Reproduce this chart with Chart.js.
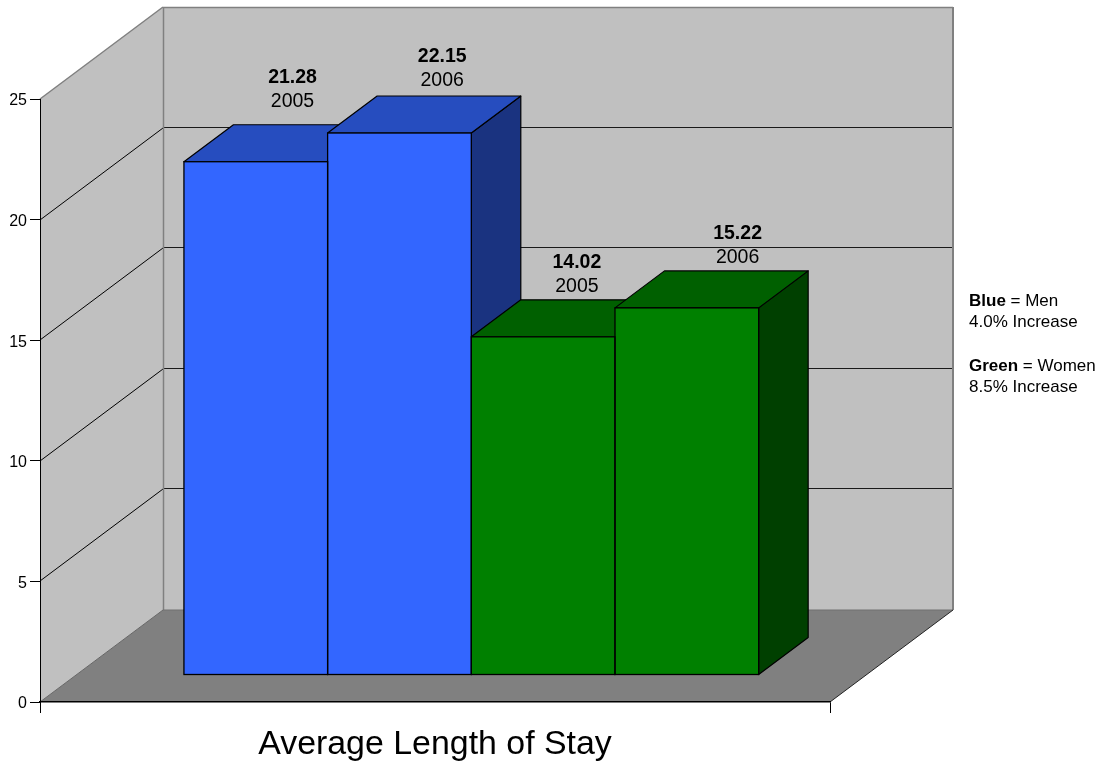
<!DOCTYPE html>
<html>
<head>
<meta charset="utf-8">
<style>html,body{margin:0;padding:0;background:#fff}canvas{display:block}</style>
<script src="https://cdn.jsdelivr.net/npm/chart.js@4/dist/chart.umd.min.js"></script>
</head>
<body>
<canvas id="c" width="1102" height="761" style="width:1102px;height:761px"></canvas>
<script>
const categories = ['Average Length of Stay'];
const seriesNames = ['Men 2005', 'Men 2006', 'Women 2005', 'Women 2006'];
const barHeights = [21.28, 22.47, 14.02, 15.22];
const valueLabels = ['21.28', '22.15', '14.02', '15.22'];
const yearLabels = ['2005', '2006', '2005', '2006'];
const frontColors = ['#3366FF', '#3366FF', '#008000', '#008000'];
const topColors = ['#264DBF', '#264DBF', '#006000', '#006000'];
const sideColors = ['#1A3380', '#1A3380', '#004000', '#004000'];
const labelNudgeX = [12, 18, 9, 26];
const labelNudgeY = [2, 10, 12, 12];

const WALL = {dx: 123, dy: -92};
const BAR_SHIFT = {x: 36.3, y: -27};
const BAR_DEPTH = {x: 49.5, y: -37};

function poly(ctx, pts, fill, stroke, lw) {
  ctx.beginPath();
  pts.forEach((p, i) => i ? ctx.lineTo(p[0], p[1]) : ctx.moveTo(p[0], p[1]));
  ctx.closePath();
  if (fill) { ctx.fillStyle = fill; ctx.fill(); }
  if (stroke) { ctx.strokeStyle = stroke; ctx.lineWidth = lw || 1; ctx.stroke(); }
}
function seg(ctx, x1, y1, x2, y2, color, lw) {
  ctx.beginPath(); ctx.moveTo(x1, y1); ctx.lineTo(x2, y2);
  ctx.strokeStyle = color; ctx.lineWidth = lw || 1; ctx.stroke();
}

const room3d = {
  id: 'room3d',
  beforeDraw(chart) {
    const {ctx, chartArea: a, scales: {y}} = chart;
    const L = a.left, R = a.right, T = y.getPixelForValue(25), B = y.getPixelForValue(0);
    const dx = WALL.dx, dy = WALL.dy;
    ctx.save();
    poly(ctx, [[L + dx, T + dy], [R + dx, T + dy], [R + dx, B + dy], [L + dx, B + dy]], '#C0C0C0');
    poly(ctx, [[L, T], [L + dx, T + dy], [L + dx, B + dy], [L, B]], '#C0C0C0');
    poly(ctx, [[L, B], [L + dx, B + dy], [R + dx, B + dy], [R, B]], '#808080');
    y.ticks.forEach(t => {
      if (t.value === 0 || t.value === 25) return;
      const py = Math.round(y.getPixelForValue(t.value));
      seg(ctx, L, py, L + dx, py + dy, '#000', 1);
      seg(ctx, L + dx, py + dy - 0.5, R + dx, py + dy - 0.5, '#1a1a1a', 1);
    });
    seg(ctx, L, T, L + dx, T + dy, '#808080', 1.5);
    seg(ctx, L + dx, T + dy + 0.5, R + dx, T + dy + 0.5, '#808080', 1.5);
    seg(ctx, L + dx + 0.5, T + dy, L + dx + 0.5, B + dy, '#808080', 1.5);
    seg(ctx, R + dx, T + dy, R + dx, B + dy, '#808080', 2);
    seg(ctx, L + dx, B + dy, R + dx, B + dy, '#707070', 1);
    seg(ctx, L, B, L + dx, B + dy, '#666', 1);
    seg(ctx, R, B, R + dx, B + dy, '#222', 1);
    ctx.restore();
  },
  beforeDatasetsDraw(chart) {
    const {ctx} = chart;
    ctx.save();
    chart.getSortedVisibleDatasetMetas().forEach(meta => {
      const i = meta.index, b = meta.data[0];
      const x0 = b.x - b.width / 2 + BAR_SHIFT.x, x1 = b.x + b.width / 2 + BAR_SHIFT.x;
      const t = b.y + BAR_SHIFT.y, f = b.base + BAR_SHIFT.y;
      const ddx = BAR_DEPTH.x, ddy = BAR_DEPTH.y;
      ctx.lineJoin = 'round';
      poly(ctx, [[x1, t], [x1 + ddx, t + ddy], [x1 + ddx, f + ddy], [x1, f]], sideColors[i], '#000', 1.2);
      poly(ctx, [[x0, t], [x0 + ddx, t + ddy], [x1 + ddx, t + ddy], [x1, t]], topColors[i], '#000', 1.2);
    });
    ctx.restore();
  },
  beforeDatasetDraw(chart) {
    chart.ctx.save();
    chart.ctx.translate(BAR_SHIFT.x, BAR_SHIFT.y);
  },
  afterDatasetDraw(chart) {
    chart.ctx.restore();
  },
  afterDatasetsDraw(chart) {
    const {ctx} = chart;
    ctx.save();
    chart.getSortedVisibleDatasetMetas().forEach(meta => {
      const b = meta.data[0];
      const x0 = b.x - b.width / 2 + BAR_SHIFT.x;
      const t = b.y + BAR_SHIFT.y, f = b.base + BAR_SHIFT.y;
      ctx.strokeStyle = '#000';
      ctx.lineWidth = 1.3;
      ctx.strokeRect(x0, t, b.width, f - t);
    });
    ctx.textAlign = 'center';
    ctx.textBaseline = 'middle';
    chart.getSortedVisibleDatasetMetas().forEach(meta => {
      const i = meta.index, b = meta.data[0];
      const cx = b.x + BAR_SHIFT.x + BAR_DEPTH.x / 2 + labelNudgeX[i];
      const top = b.y + BAR_SHIFT.y + BAR_DEPTH.y + labelNudgeY[i];
      ctx.fillStyle = '#000';
      ctx.font = 'bold 19.5px "Liberation Sans", Arial, sans-serif';
      ctx.fillText(valueLabels[i], cx, top - 49);
      ctx.font = '19.5px "Liberation Sans", Arial, sans-serif';
      ctx.fillText(yearLabels[i], cx, top - 25);
    });
    ctx.restore();
    drawKey(ctx);
  }
};

function drawKey(ctx) {
  ctx.save();
  ctx.fillStyle = '#000';
  ctx.textAlign = 'left';
  ctx.textBaseline = 'middle';
  const rows = [
    ['Blue', ' = Men', 301],
    ['', '4.0% Increase', 322],
    ['Green', ' = Women', 366],
    ['', '8.5% Increase', 387]
  ];
  rows.forEach(r => {
    let x = 969;
    if (r[0]) {
      ctx.font = 'bold 17px "Liberation Sans", Arial, sans-serif';
      ctx.fillText(r[0], x, r[2]);
      x += ctx.measureText(r[0]).width;
    }
    ctx.font = '17px "Liberation Sans", Arial, sans-serif';
    ctx.fillText(r[1], x, r[2]);
  });
  ctx.restore();
}

new Chart(document.getElementById('c'), {
  type: 'bar',
  data: {
    labels: categories,
    datasets: seriesNames.map((name, i) => ({
      label: name,
      data: [barHeights[i]],
      backgroundColor: frontColors[i],
      borderWidth: 0,
      inflateAmount: 0,
      clip: false
    }))
  },
  plugins: [room3d],
  options: {
    responsive: false,
    animation: false,
    devicePixelRatio: 1,
    layout: {padding: {top: 99, right: 272, left: 0, bottom: 0}},
    plugins: {legend: {display: false}, title: {display: false}, tooltip: {enabled: false}},
    datasets: {bar: {barPercentage: 1, categoryPercentage: 0.7275}},
    scales: {
      x: {
        offset: true,
        afterFit(s) { s.height = 59; },
        border: {color: '#000', width: 1.5},
        grid: {drawOnChartArea: false, drawTicks: true, tickLength: 11, color: ['#000', '#808080'], offset: true},
        ticks: {color: '#000', padding: 11, maxRotation: 0, font: {family: '"Liberation Sans", Arial, sans-serif', size: 33.9}}
      },
      y: {
        min: 0, max: 25,
        afterFit(s) { s.width = 40; },
        border: {color: '#000', width: 1},
        grid: {drawOnChartArea: false, drawTicks: true, tickLength: 10, color: '#000'},
        ticks: {stepSize: 5, color: '#000', padding: 3, labelOffset: 2, font: {family: '"Liberation Sans", Arial, sans-serif', size: 16}}
      }
    }
  }
});
</script>
</body>
</html>
